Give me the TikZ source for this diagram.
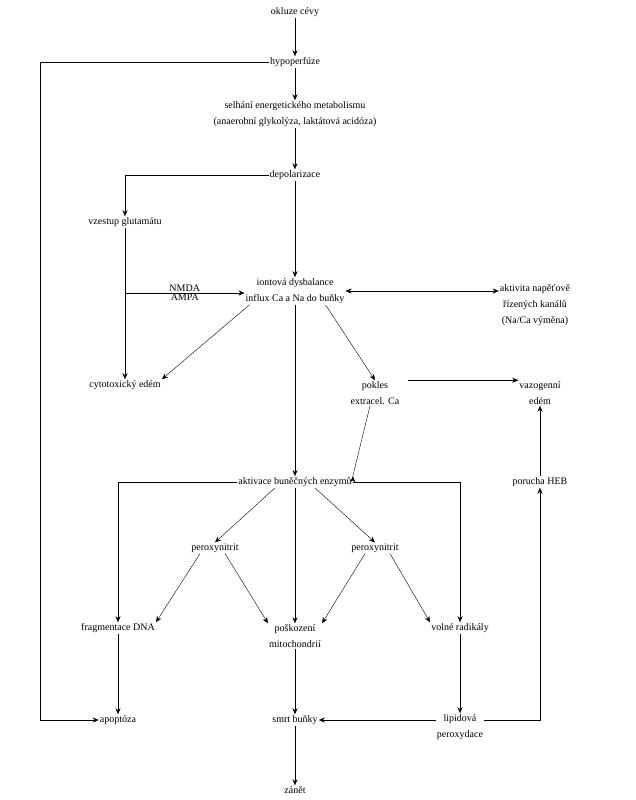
\documentclass[tikz,border=0pt]{standalone}
\usepackage{fontspec}
\setmainfont{Liberation Serif}
\usetikzlibrary{positioning}
\usetikzlibrary{arrows.meta}

\begin{document}
\begin{tikzpicture}[x=1pt,y=-1pt,
	box/.style={inner sep=1pt, align=center, font=\fontsize{10}{16}\selectfont},
	arr/.style={-{Stealth[length=6pt,width=5pt]}, thin}]

	% ------------------------------------------------
	% Dimensions of graphic
	\useasboundingbox (0,0) rectangle (635,800);

	% ------------------------------------------------
	% Nodes
	\node[box] (Okluze)   at (295,12)  {okluze cévy};
	\node[box] (Hypo)     at (295,62)  {hypoperfúze};
	\node[box] (Selhani)  at (295,114) {selhání energetického metabolismu\\(anaerobní glykolýza, laktátová acidóza)};
	\node[box] (Depol)    at (295,175) {depolarizace};
	\node[box] (Glut)     at (125,222) {vzestup glutamátu};
	\node[box] (Iont)     at (295,291) {iontová dysbalance\\influx Ca a Na do buňky};
	\node[box] (Kanaly)   at (535,305) {aktivita napěťově\\řízených kanálů\\(Na/Ca výměna)};
	\node[box] (Cyto)     at (125,385) {cytotoxický edém};
	\node[box] (Pokles)   at (375,393) {pokles\\extracel. Ca};
	\node[box] (Vazo)     at (540,393) {vazogenní\\edém};
	\node[box] (Enzymy)   at (295,482) {aktivace buněčných enzymů};
	\node[box] (HEB)      at (540,482) {porucha HEB};
	\node[box] (PeroxL)   at (215,548) {peroxynitrit};
	\node[box] (PeroxR)   at (375,548) {peroxynitrit};
	\node[box] (Fragm)    at (118,628) {fragmentace DNA};
	\node[box] (Mito)     at (295,636) {poškození\\mitochondrií};
	\node[box] (Radik)    at (460,628) {volné radikály};
	\node[box] (Apopt)    at (118,720) {apoptóza};
	\node[box] (Smrt)     at (295,720) {smrt buňky};
	\node[box] (Lipid)    at (460,727) {lipidová\\peroxydace};
	\node[box] (Zanet)    at (295,790) {zánět};

	% ----------------
	% Helper coordinates
	\coordinate (GlutLine) at (125,293);
	\coordinate (HypoTurn) at (40,62);
	\coordinate (ApoTurn)  at (40,720);

	%%%%%%%%%%%%%%%%%%%%%%%%%%%%%%%%%%%%%%%%%
	% Connectors
	\draw[arr] (Okluze) -- (Hypo);
	\draw[arr] (Hypo) -- (Selhani);
	\draw[arr] (Selhani) -- (Depol);
	\draw[arr] (Hypo.west) -- (HypoTurn) -- (ApoTurn) -- (Apopt.west);
	\draw[arr] (Depol.west) -| (Glut.north);
	\draw[arr] (Depol) -- (Iont);
	\draw[arr] (Glut) -- (Cyto);
	\draw[arr] (GlutLine) -- node[box, above=0pt] {NMDA} node[box, below=0pt] {AMPA} (GlutLine -| Iont.west);
	\draw[{Stealth[length=6pt,width=5pt]}-{Stealth[length=6pt,width=5pt]}, thin] (Iont.east) -- (Kanaly.west |- Iont.east);
	\draw[arr] (Iont.south west) ++(5,0) -- (Cyto.north east);
	\draw[arr] (Iont.south east) ++(-20,0) -- (Pokles.north);
	\draw[arr] (Pokles.north east) ++(8,0) -- (Vazo.west |- Pokles.north east);
	\draw[arr] (Pokles.south) ++(-5,0) -- (Enzymy.north east) ++(0,0);
	\draw[arr] (Iont) -- (Enzymy);
	\draw[arr] (Enzymy.west) -| (Fragm.north);
	\draw[arr] (Enzymy.east) -| (Radik.north);
	\draw[arr] (Enzymy.south) ++(-20,0) -- (PeroxL.north);
	\draw[arr] (Enzymy.south) ++(20,0) -- (PeroxR.north);
	\draw[arr] (Enzymy) -- (Mito);
	\draw[arr] (PeroxL.south) ++(-15,0) -- (Fragm.north east);
	\draw[arr] (PeroxL.south) ++(10,0) -- (Mito.north west);
	\draw[arr] (PeroxR.south) ++(-10,0) -- (Mito.north east);
	\draw[arr] (PeroxR.south) ++(15,0) -- (Radik.north west);
	\draw[arr] (Fragm) -- (Apopt);
	\draw[arr] (Mito) -- (Smrt);
	\draw[arr] (Radik) -- (Lipid);
	\draw[arr] (Lipid.west |- Smrt) -- (Smrt.east);
	\draw[arr] (Lipid.east |- Smrt) -| (HEB.south);
	\draw[arr] (HEB) -- (Vazo);
	\draw[arr] (Smrt) -- (Zanet);

\end{tikzpicture}
\end{document}
